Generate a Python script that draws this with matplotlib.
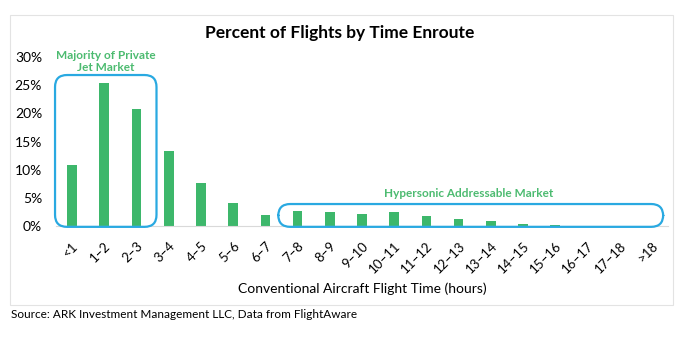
import matplotlib
matplotlib.use("Agg")
import matplotlib.pyplot as plt
from matplotlib.patches import FancyBboxPatch, Rectangle

plt.rcParams['font.family'] = ['Lato', 'DejaVu Sans']

# data
categories = ['<1', '1–2', '2–3', '3–4', '4–5', '5–6', '6–7', '7–8', '8–9', '9–10',
              '10–11', '11–12', '12–13', '13–14', '14–15', '15–16', '16–17', '17–18', '>18']
percent = [10.8, 25.3, 20.8, 13.4, 7.6, 4.1, 1.9, 2.7, 2.5, 2.1,
           2.4, 1.7, 1.2, 0.8, 0.4, 0.2, 0.05, 0.02, 0.01]
y_ticks = [0, 5, 10, 15, 20, 25, 30]

GREEN = '#3DB76B'
TEXT_GREEN = '#4CBB70'
BLUE = '#29A9E1'

fig = plt.figure(figsize=(6.8, 3.49), dpi=100)
W, H = 680, 349

# light grey frame round the chart
fig.patches.append(Rectangle((10 / W, 1 - 305 / H), 663 / W, 290 / H,
                             transform=fig.transFigure, fill=False,
                             edgecolor='#E3E3E3', linewidth=0.8))

ax = fig.add_axes([56 / W, 1 - 226 / H, 612 / W, 169 / H])
x = list(range(len(categories)))
ax.bar(x, percent, width=0.3, color=GREEN, zorder=2)

ax.set_xlim(-0.5, len(categories) - 0.5)
ax.set_ylim(0, 30)
ax.set_yticks(y_ticks)
ax.set_yticklabels([f'{t}%' for t in y_ticks], fontsize=10)
ax.set_xticks(x)
ax.set_xticklabels(categories, rotation=45, ha='right', rotation_mode='anchor', fontsize=9.5)
ax.tick_params(axis='both', length=0)
ax.tick_params(axis='x', pad=10)
ax.tick_params(axis='y', pad=10)
for s in ['top', 'right', 'left']:
    ax.spines[s].set_visible(False)
ax.spines['bottom'].set_color('#D9D9D9')
ax.spines['bottom'].set_linewidth(0.8)
ax.set_xlabel('Conventional Aircraft Flight Time (hours)', fontsize=10, labelpad=5)

# rounded boxes: rounding in pixels converted to data units
px_x = 612 / len(categories)
px_y = 169 / 30
aspect = (1 / px_y) / (1 / px_x)
r = 12 / px_x

def rounded_box(x0, x1, y0, y1):
    box = FancyBboxPatch((x0, y0), x1 - x0, y1 - y0,
                         boxstyle=f'round,pad=0,rounding_size={r}',
                         mutation_aspect=aspect, fill=False,
                         edgecolor=BLUE, linewidth=1.6, clip_on=False, zorder=3)
    ax.add_patch(box)

rounded_box(-0.53, 2.62, -0.15, 26.8)
rounded_box(6.4, 18.35, -0.15, 3.9)

ax.text(1.05, 29.2, 'Majority of Private\nJet Market', ha='center', va='center',
        fontsize=8.5, fontweight='bold', color=TEXT_GREEN, linespacing=1.05, clip_on=False)
ax.text(12.3, 5.8, 'Hypersonic Addressable Market', ha='center', va='center',
        fontsize=8.5, fontweight='bold', color=TEXT_GREEN)

fig.text(340 / W, 1 - 33 / H, 'Percent of Flights by Time Enroute', ha='center', va='center',
         fontsize=12.5, fontweight='bold')
fig.text(11 / W, 1 - 315 / H, 'Source: ARK Investment Management LLC, Data from FlightAware',
         ha='left', va='center', fontsize=8.5)

fig.savefig('out.png', dpi=100)
